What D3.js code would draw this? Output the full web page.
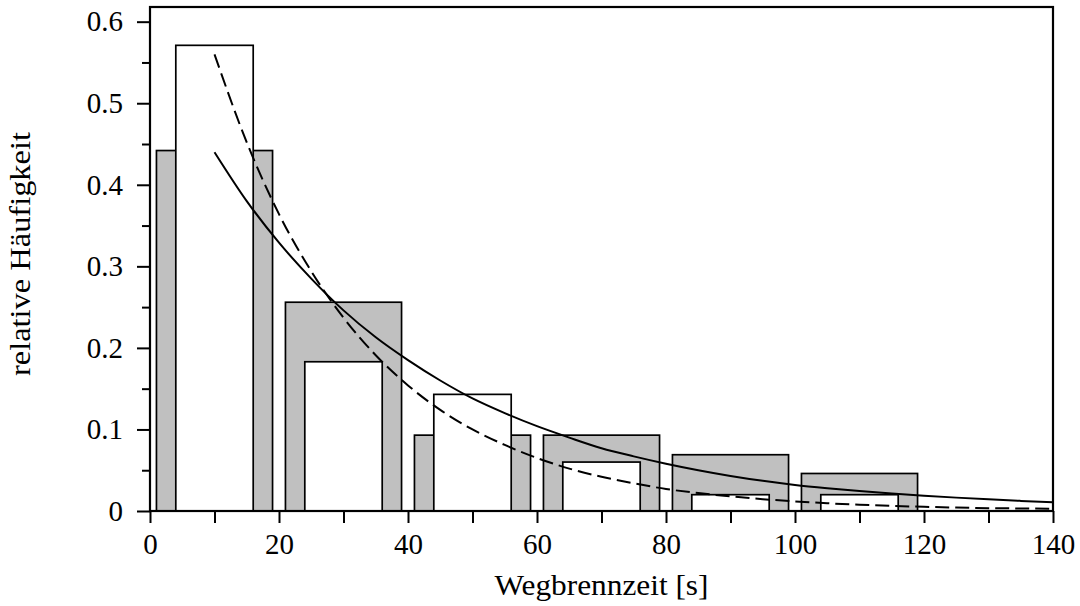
<!DOCTYPE html>
<html lang="de">
<head>
    <meta charset="UTF-8">
    <title>Wegbrennzeit - relative Häufigkeit</title>
    <script src="https://d3js.org/d3.v7.min.js"></script>
    <style>
        body {
            margin: 0;
            background: #fff;
        }

        svg {
            display: block;
            font-family: 'Liberation Serif', 'Times New Roman', serif;
        }

        .axis path {
            display: none;
        }

        .axis line {
            stroke: #000;
            stroke-width: 2;
        }

        .axis text {
            font-size: 29px;
            fill: #000;
            font-family: 'Liberation Serif', serif;
        }

        .axis-label {
            font-size: 29px;
            fill: #000;
            text-anchor: middle;
        }
    </style>
</head>
<body>
    <svg width="1080" height="606"></svg>

    <script>
        // bins (seconds): centres, grey = wide bins, white = narrow bins
        const binCenters = [10, 30, 50, 70, 90, 110];
        const greyWidth = 18;
        const whiteWidth = 12;
        const greyValues = [0.442, 0.256, 0.093, 0.093, 0.069, 0.046];
        const whiteValues = [0.571, 0.183, 0.143, 0.060, 0.020, 0.020];

        // fitted curves
        const curveX = [10, 15, 20, 25, 30, 35, 40, 45, 50, 55, 60, 65, 70, 75,
                        80, 85, 90, 95, 100, 105, 110, 115, 120, 125, 130, 135, 140];
        const solidY = [0.440, 0.380, 0.329, 0.285, 0.246, 0.213, 0.185, 0.160, 0.138,
                        0.120, 0.104, 0.090, 0.077, 0.067, 0.058, 0.050, 0.043, 0.037,
                        0.032, 0.028, 0.0245, 0.0215, 0.0188, 0.0164, 0.0143, 0.0124, 0.0106];
        const dashedY = [0.560, 0.452, 0.364, 0.294, 0.237, 0.191, 0.154, 0.124, 0.100,
                         0.081, 0.065, 0.052, 0.042, 0.034, 0.027, 0.022, 0.018, 0.0145,
                         0.0118, 0.0095, 0.0077, 0.0062, 0.0051, 0.0042, 0.0035, 0.0031, 0.0028];

        const xTicks = [0, 20, 40, 60, 80, 100, 120, 140];
        const xMinor = [10, 30, 50, 70, 90, 110, 130];
        const yTicks = [0, 0.1, 0.2, 0.3, 0.4, 0.5, 0.6];
        const yMinor = [0.05, 0.15, 0.25, 0.35, 0.45, 0.55];

        const svg = d3.select('svg');
        const margin = { top: 7, right: 27, bottom: 95, left: 150 };
        const width = 1080, height = 606;
        const x0 = margin.left, x1 = width - margin.right;
        const y0 = height - margin.bottom, y1 = margin.top;

        const x = d3.scaleLinear().domain([0, 140]).range([x0, x1]);
        const y = d3.scaleLinear().domain([0, 0.618]).range([y0, y1]);

        const bins = binCenters.map((c, i) => ({ c, grey: greyValues[i], white: whiteValues[i] }));

        // grey bars
        svg.append('g')
            .selectAll('rect')
            .data(bins)
            .enter().append('rect')
            .attr('x', d => x(d.c - greyWidth / 2))
            .attr('y', d => y(d.grey))
            .attr('width', d => x(d.c + greyWidth / 2) - x(d.c - greyWidth / 2))
            .attr('height', d => y(0) - y(d.grey))
            .attr('fill', '#c0c0c0')
            .attr('stroke', '#000')
            .attr('stroke-width', 1.7);

        // white bars
        svg.append('g')
            .selectAll('rect')
            .data(bins)
            .enter().append('rect')
            .attr('x', d => x(d.c - whiteWidth / 2))
            .attr('y', d => y(d.white))
            .attr('width', d => x(d.c + whiteWidth / 2) - x(d.c - whiteWidth / 2))
            .attr('height', d => y(0) - y(d.white))
            .attr('fill', '#fff')
            .attr('stroke', '#000')
            .attr('stroke-width', 1.7);

        // curves
        const line = d3.line()
            .x(d => x(d[0]))
            .y(d => y(d[1]))
            .curve(d3.curveMonotoneX);

        svg.append('path')
            .datum(curveX.map((v, i) => [v, solidY[i]]))
            .attr('d', line)
            .attr('fill', 'none')
            .attr('stroke', '#000')
            .attr('stroke-width', 2);

        svg.append('path')
            .datum(curveX.map((v, i) => [v, dashedY[i]]))
            .attr('d', line)
            .attr('fill', 'none')
            .attr('stroke', '#000')
            .attr('stroke-width', 2)
            .attr('stroke-dasharray', '14,6');

        // frame
        svg.append('rect')
            .attr('x', x0)
            .attr('y', y1)
            .attr('width', x1 - x0)
            .attr('height', y0 - y1)
            .attr('fill', 'none')
            .attr('stroke', '#000')
            .attr('stroke-width', 2.2);

        // X axis
        svg.append('g')
            .attr('class', 'axis')
            .attr('transform', `translate(0,${y0})`)
            .call(d3.axisBottom(x).tickValues(xTicks).tickSize(12).tickPadding(10)
                .tickFormat(d3.format('d')));

        svg.append('g')
            .attr('class', 'axis')
            .attr('transform', `translate(0,${y0})`)
            .call(d3.axisBottom(x).tickValues(xMinor).tickSize(12).tickFormat(''));

        // Y axis
        svg.append('g')
            .attr('class', 'axis')
            .attr('transform', `translate(${x0},0)`)
            .call(d3.axisLeft(y).tickValues(yTicks).tickSize(13).tickPadding(14)
                .tickFormat(d => d === 0 ? '0' : d3.format('.1f')(d)));

        svg.append('g')
            .attr('class', 'axis')
            .attr('transform', `translate(${x0},0)`)
            .call(d3.axisLeft(y).tickValues(yMinor).tickSize(8).tickFormat(''));

        // axis labels
        svg.append('text')
            .attr('class', 'axis-label')
            .attr('x', (x0 + x1) / 2)
            .attr('y', 595)
            .attr('textLength', 214)
            .attr('lengthAdjust', 'spacingAndGlyphs')
            .text('Wegbrennzeit [s]');

        svg.append('text')
            .attr('class', 'axis-label')
            .attr('transform', 'rotate(-90)')
            .attr('x', -254)
            .attr('y', 30)
            .attr('textLength', 244)
            .attr('lengthAdjust', 'spacingAndGlyphs')
            .text('relative Häufigkeit');
    </script>
</body>
</html>
